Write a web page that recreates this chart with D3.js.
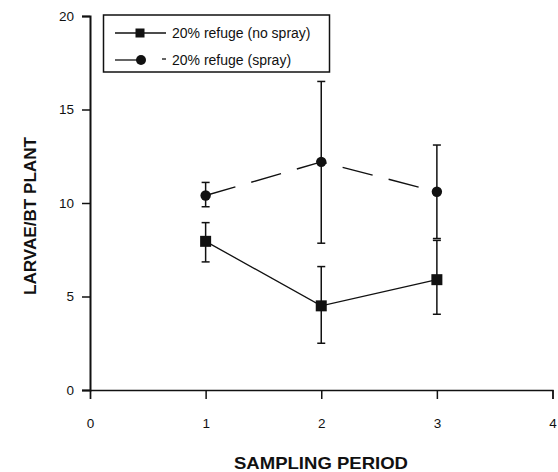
<!DOCTYPE html>
<html>
<head>
<meta charset="utf-8">
<script src="https://cdn.jsdelivr.net/npm/d3@7"></script>
<style>
  body { margin: 0; background: #fff; }
  text { font-family: "Liberation Sans", Arial, sans-serif; fill: #111; }
</style>
</head>
<body>
<div id="chart"></div>
<script>
const periods = [1, 2, 3];
const noSpray = [7.95, 4.5, 5.9];
const noSprayLo = [6.85, 2.5, 4.05];
const noSprayHi = [8.95, 6.6, 8.0];
const spray = [10.4, 12.2, 10.6];
const sprayLo = [9.8, 7.85, 8.1];
const sprayHi = [11.1, 16.5, 13.1];
const xTicks = [0, 1, 2, 3, 4];
const yTicks = [0, 5, 10, 15, 20];

const width = 558, height = 472;
const margin = { top: 16, right: 5.5, bottom: 82, left: 90 };

const svg = d3.select("#chart").append("svg")
  .attr("width", width).attr("height", height);

const x = d3.scaleLinear().domain([0, 4]).range([margin.left, width - margin.right]);
const y = d3.scaleLinear().domain([0, 20]).range([height - margin.bottom, margin.top]);

const font = "Liberation Sans, Arial, sans-serif";

// x axis
const gx = svg.append("g")
  .attr("transform", `translate(0,${y(0)})`)
  .call(d3.axisBottom(x).tickValues(xTicks).tickFormat(d3.format("d")).tickSize(9).tickPadding(19));
gx.select(".domain").attr("stroke", "#111").attr("stroke-width", 1.3);
gx.selectAll(".tick line").attr("stroke", "#111").attr("stroke-width", 1.5);
gx.selectAll(".tick text").attr("font-size", 13.5).style("font-family", font).attr("fill", "#111");

// y axis
const gy = svg.append("g")
  .attr("transform", `translate(${margin.left},0)`)
  .call(d3.axisLeft(y).tickValues(yTicks).tickSize(8).tickPadding(8));
gy.select(".domain").attr("stroke", "#111").attr("stroke-width", 2);
gy.selectAll(".tick line").attr("stroke", "#111").attr("stroke-width", 1.5);
gy.selectAll(".tick text").attr("font-size", 13.5).style("font-family", font).attr("fill", "#111");

// axis titles
svg.append("text")
  .attr("x", 234).attr("y", 469)
  .attr("font-size", 16.5).attr("font-weight", "bold")
  .attr("textLength", 174).attr("lengthAdjust", "spacingAndGlyphs")
  .text("SAMPLING PERIOD");

svg.append("text")
  .attr("transform", "translate(36,295) rotate(-90)")
  .attr("font-size", 17).attr("font-weight", "bold")
  .attr("textLength", 158).attr("lengthAdjust", "spacingAndGlyphs")
  .text("LARVAE/BT PLANT");

const line = d3.line().x(d => x(d[0])).y(d => y(d[1]));

function errorBars(lo, hi) {
  const g = svg.append("g").attr("stroke", "#111").attr("stroke-width", 1.5);
  periods.forEach((p, i) => {
    g.append("line").attr("x1", x(p)).attr("x2", x(p)).attr("y1", y(lo[i])).attr("y2", y(hi[i]));
    [lo[i], hi[i]].forEach(v => {
      g.append("line").attr("x1", x(p) - 4).attr("x2", x(p) + 4).attr("y1", y(v)).attr("y2", y(v));
    });
  });
}

errorBars(sprayLo, sprayHi);
errorBars(noSprayLo, noSprayHi);

// spray series (dashed, circles)
svg.append("path")
  .datum(periods.map((p, i) => [p, spray[i]]))
  .attr("d", line)
  .attr("fill", "none").attr("stroke", "#111").attr("stroke-width", 1.4)
  .attr("stroke-dasharray", "31,16.5");

svg.selectAll(".dot")
  .data(periods.map((p, i) => [p, spray[i]]))
  .join("circle")
  .attr("class", "dot")
  .attr("cx", d => x(d[0])).attr("cy", d => y(d[1]))
  .attr("r", 5.2).attr("fill", "#111");

// no spray series (solid, squares)
svg.append("path")
  .datum(periods.map((p, i) => [p, noSpray[i]]))
  .attr("d", line)
  .attr("fill", "none").attr("stroke", "#111").attr("stroke-width", 1.3);

svg.selectAll(".sq")
  .data(periods.map((p, i) => [p, noSpray[i]]))
  .join("rect")
  .attr("class", "sq")
  .attr("x", d => x(d[0]) - 5.5).attr("y", d => y(d[1]) - 5.5)
  .attr("width", 11).attr("height", 11).attr("fill", "#111");

// legend
const leg = svg.append("g");
leg.append("rect")
  .attr("x", 103.5).attr("y", 15).attr("width", 226).attr("height", 57)
  .attr("fill", "#fff").attr("stroke", "#111").attr("stroke-width", 1.5);
leg.append("line").attr("x1", 115).attr("x2", 166).attr("y1", 33).attr("y2", 33)
  .attr("stroke", "#111").attr("stroke-width", 1.3);
leg.append("rect").attr("x", 135.5).attr("y", 28.5).attr("width", 9).attr("height", 9).attr("fill", "#111");
leg.append("text").attr("x", 172).attr("y", 38).attr("font-size", 14).text("20% refuge (no spray)");
leg.append("line").attr("x1", 115).attr("x2", 142).attr("y1", 60).attr("y2", 60)
  .attr("stroke", "#111").attr("stroke-width", 1.3);
leg.append("circle").attr("cx", 141).attr("cy", 60).attr("r", 5).attr("fill", "#111");
leg.append("line").attr("x1", 162).attr("x2", 166).attr("y1", 59).attr("y2", 59)
  .attr("stroke", "#111").attr("stroke-width", 1.3);
leg.append("text").attr("x", 172).attr("y", 65).attr("font-size", 14).text("20% refuge (spray)");
</script>
</body>
</html>
